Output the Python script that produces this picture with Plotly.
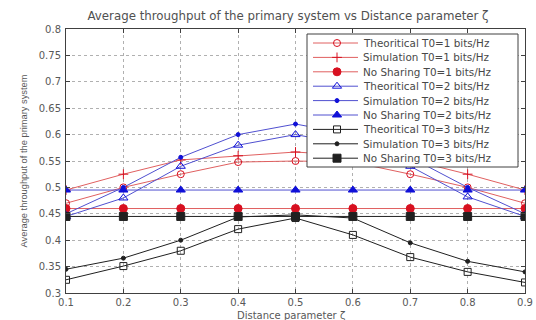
import plotly.graph_objects as go

x = [0.1, 0.2, 0.3, 0.4, 0.5, 0.6, 0.7, 0.8, 0.9]
theo1 = [0.47, 0.50, 0.525, 0.548, 0.55, 0.548, 0.525, 0.50, 0.47]
sim1 = [0.495, 0.525, 0.552, 0.56, 0.567, 0.56, 0.552, 0.525, 0.495]
nosh1 = [0.46] * 9
theo2 = [0.445, 0.48, 0.54, 0.58, 0.60, 0.58, 0.54, 0.482, 0.445]
sim2 = [0.45, 0.50, 0.557, 0.60, 0.62, 0.60, 0.557, 0.50, 0.45]
nosh2 = [0.495] * 9
theo3 = [0.325, 0.351, 0.38, 0.421, 0.442, 0.41, 0.368, 0.34, 0.32]
sim3 = [0.345, 0.366, 0.40, 0.444, 0.448, 0.442, 0.395, 0.36, 0.34]
nosh3 = [0.445] * 9

yticks = [0.3, 0.35, 0.4, 0.45, 0.5, 0.55, 0.6, 0.65, 0.7, 0.75, 0.8]
ytext = ["0.3", "0.35", "0.4", "0.45", "0.5", "0.55", "0.6", "0.65", "0.7", "0.75", "0.8"]
xticks = x
xtext = ["0.1", "0.2", "0.3", "0.4", "0.5", "0.6", "0.7", "0.8", "0.9"]

RED_L = "#e06060"
RED = "#d81020"
BLUE_L = "#5050d0"
BLUE = "#1010d8"
BLACK = "#202020"

series = [
    ("Theoritical T0=1 bits/Hz", theo1, RED_L, RED, "circle-open", 7),
    ("Simulation T0=1 bits/Hz", sim1, RED_L, RED, "cross-thin-open", 7),
    ("No Sharing T0=1 bits/Hz", nosh1, RED_L, RED, "circle", 8),
    ("Theoritical T0=2 bits/Hz", theo2, BLUE_L, BLUE, "triangle-up-open", 8),
    ("Simulation T0=2 bits/Hz", sim2, BLUE_L, BLUE, "circle", 4),
    ("No Sharing T0=2 bits/Hz", nosh2, BLUE_L, BLUE, "triangle-up", 8),
    ("Theoritical T0=3 bits/Hz", theo3, BLACK, BLACK, "square-open", 7),
    ("Simulation T0=3 bits/Hz", sim3, BLACK, BLACK, "circle", 4),
    ("No Sharing T0=3 bits/Hz", nosh3, BLACK, BLACK, "square", 8),
]

WIDE = "DejaVu Sans, Verdana, sans-serif"
NARROW = "Liberation Sans, Arial, sans-serif"

# plot area in pixels
PL, PR, PT, PB = 66, 525, 29, 293
W, H = 536, 320
PW, PH = PR - PL, PB - PT

fig = go.Figure()
for name, ys, lc, mc, sym, ms in series:
    fig.add_trace(go.Scatter(
        x=x, y=ys, name=name, mode="lines+markers", showlegend=False,
        line=dict(color=lc, width=1),
        marker=dict(symbol=sym, size=ms, color=mc, line=dict(color=mc, width=1)),
    ))

# ---- hand-built legend on an overlay pixel-space subplot ----
bx0, bx1, by0, by1 = 307 - PL, 518 - PL, 34 - PT, 167 - PT
fig.add_trace(go.Scatter(
    x=[bx0, bx1, bx1, bx0, bx0], y=[by0, by0, by1, by1, by0],
    xaxis="x2", yaxis="y2", mode="lines", fill="toself", fillcolor="white",
    line=dict(color="#404040", width=1), showlegend=False, hoverinfo="skip"))
row0, rstep = 43 - PT, 14.4
lx0, lx1, mx, tx = 313 - PL, 358 - PL, 337 - PL, 361 - PL
annotations = []
for i, (name, ys, lc, mc, sym, ms) in enumerate(series):
    ry = row0 + i * rstep
    fig.add_trace(go.Scatter(
        x=[lx0, lx1], y=[ry, ry], xaxis="x2", yaxis="y2", mode="lines",
        line=dict(color=lc, width=1), showlegend=False, hoverinfo="skip"))
    fig.add_trace(go.Scatter(
        x=[mx], y=[ry], xaxis="x2", yaxis="y2", mode="markers",
        marker=dict(symbol=sym, size=ms, color=mc, line=dict(color=mc, width=1)),
        showlegend=False, hoverinfo="skip"))
    annotations.append(dict(
        x=tx, y=ry, xref="x2", yref="y2", text=name, showarrow=False,
        xanchor="left", yanchor="middle",
        font=dict(size=10.4, color="#484848", family=WIDE)))

# x-axis title placed below tick labels
annotations.append(dict(
    x=(291 - PL) / PW, y=(PB - 315.5) / PH, xref="paper", yref="paper",
    text="Distance parameter ζ", showarrow=False, xanchor="center", yanchor="middle",
    font=dict(size=10, color="#585858", family=WIDE)))

axis_common = dict(
    showline=True, linecolor="#404040", linewidth=1, mirror="ticks",
    ticks="inside", ticklen=4, tickcolor="#404040",
    showgrid=True, gridcolor="#b0b0b0", griddash="dot", gridwidth=1,
    zeroline=False, automargin=False,
)

fig.update_layout(
    width=W, height=H,
    margin=dict(l=PL, r=W - PR, t=PT, b=H - PB),
    paper_bgcolor="white", plot_bgcolor="white",
    font=dict(family=NARROW, color="#404040"),
    title=dict(text="Average throughput of the primary system vs Distance parameter ζ",
               x=288 / W, xanchor="center", y=1 - 16 / H, yanchor="middle",
               font=dict(size=11.8, color="#505050", family=WIDE), automargin=False),
    xaxis=dict(range=[0.1, 0.9], tickvals=xticks, ticktext=xtext,
               tickfont=dict(size=10, color="#585858", family=WIDE), ticklabelstandoff=0,
               **axis_common),
    yaxis=dict(range=[0.3, 0.8], tickvals=yticks, ticktext=ytext,
               tickfont=dict(size=10, color="#585858", family=WIDE), ticklabelstandoff=2,
               title=dict(text="Average throughput of the primary system", font=dict(size=9.3, color="#585858"), standoff=9),
               **axis_common),
    xaxis2=dict(overlaying="x", anchor="y2", range=[0, PW], visible=False, fixedrange=True),
    yaxis2=dict(overlaying="y", anchor="x2", range=[PH, 0], visible=False, fixedrange=True),
    annotations=annotations,
    showlegend=False,
)

fig.write_html("out.html")
